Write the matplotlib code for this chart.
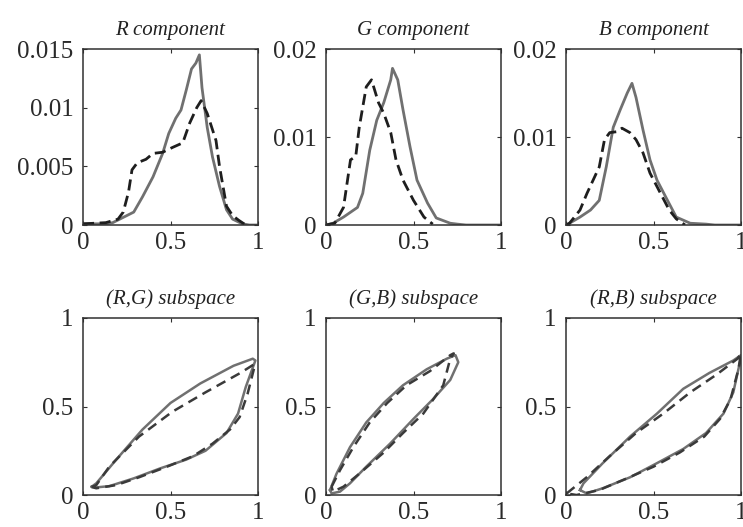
import matplotlib
matplotlib.use('Agg')
import matplotlib.pyplot as plt

# --- histograms of each colour component (solid = model, dashed = data) ---
r_solid_x = [0, 0.13, 0.17, 0.29, 0.34, 0.40, 0.455, 0.49, 0.53, 0.56, 0.59, 0.62, 0.645, 0.665,
             0.68, 0.71, 0.74, 0.78, 0.82, 0.855, 0.91, 0.95, 1.0]
r_solid_y = [0.0001, 0.0001, 0.0002, 0.0011, 0.0024, 0.0041, 0.0061, 0.0078, 0.0091, 0.0098, 0.0115,
             0.0133, 0.0138, 0.0145, 0.0117, 0.0083, 0.0058, 0.0033, 0.0013, 0.0005, 0.0001, 0, 0]
r_dash_x = [0, 0.13, 0.20, 0.23, 0.26, 0.28, 0.31, 0.36, 0.40, 0.455, 0.51, 0.57, 0.61, 0.65, 0.675,
            0.71, 0.76, 0.78, 0.82, 0.855, 0.89, 0.93]
r_dash_y = [0.0001, 0.0002, 0.0005, 0.0011, 0.0028, 0.0047, 0.0053, 0.0056, 0.0061, 0.0062, 0.0066,
            0.0070, 0.0087, 0.0100, 0.0106, 0.0095, 0.0072, 0.0050, 0.0016, 0.0008, 0.0004, 0]

g_solid_x = [0, 0.04, 0.10, 0.18, 0.21, 0.25, 0.29, 0.33, 0.37, 0.38, 0.41, 0.44, 0.48, 0.52, 0.58,
             0.63, 0.71, 0.75, 0.80, 1.0]
g_solid_y = [0, 0.0002, 0.0009, 0.0020, 0.0036, 0.0085, 0.0119, 0.0139, 0.0165, 0.0178, 0.0165, 0.0131,
             0.0089, 0.0051, 0.0025, 0.0008, 0.0002, 0.0001, 0, 0]
g_dash_x = [0, 0.05, 0.10, 0.14, 0.17, 0.19, 0.23, 0.26, 0.30, 0.33, 0.37, 0.40, 0.44, 0.50, 0.56, 0.61]
g_dash_y = [0, 0.0002, 0.0020, 0.0074, 0.0078, 0.0111, 0.0157, 0.0165, 0.0139, 0.0127, 0.0105, 0.0074,
            0.0051, 0.0028, 0.0009, 0.0001]

b_solid_x = [0, 0.02, 0.08, 0.14, 0.19, 0.23, 0.27, 0.31, 0.35, 0.377, 0.40, 0.44, 0.48, 0.52, 0.58,
             0.63, 0.71, 0.80, 0.85, 1.0]
b_solid_y = [0, 0.0002, 0.0009, 0.0017, 0.0028, 0.0066, 0.0111, 0.0131, 0.0150, 0.0161, 0.0145, 0.0108,
             0.0074, 0.0051, 0.0028, 0.0009, 0.0002, 0.0001, 0, 0]
b_dash_x = [0, 0.02, 0.08, 0.12, 0.155, 0.19, 0.22, 0.25, 0.29, 0.32, 0.365, 0.40, 0.44, 0.48, 0.54,
            0.59, 0.63, 0.68]
b_dash_y = [0, 0.0002, 0.0017, 0.0036, 0.0051, 0.0066, 0.0097, 0.0105, 0.0106, 0.0110, 0.0105, 0.0097,
            0.0082, 0.0059, 0.0036, 0.0017, 0.0007, 0]

# --- closed trajectories in the 2-D subspaces ---
rg_solid_x = [0.05, 0.076, 0.19, 0.34, 0.50, 0.67, 0.86, 0.97, 0.985, 0.93, 0.886, 0.82, 0.70, 0.59,
              0.44, 0.29, 0.15, 0.076, 0.05]
rg_solid_y = [0.047, 0.066, 0.20, 0.37, 0.52, 0.63, 0.73, 0.77, 0.76, 0.61, 0.46, 0.35, 0.25, 0.20,
              0.15, 0.094, 0.05, 0.043, 0.047]
rg_dash_x = [0.05, 0.076, 0.15, 0.32, 0.51, 0.70, 0.90, 0.98, 0.98, 0.94, 0.895, 0.84, 0.74, 0.63,
             0.48, 0.32, 0.19, 0.076, 0.05]
rg_dash_y = [0.045, 0.056, 0.16, 0.33, 0.47, 0.58, 0.69, 0.74, 0.725, 0.57, 0.44, 0.37, 0.29, 0.22,
             0.16, 0.10, 0.056, 0.038, 0.045]

gb_solid_x = [0.023, 0.06, 0.137, 0.23, 0.33, 0.44, 0.575, 0.69, 0.74, 0.756, 0.71, 0.61, 0.50, 0.366,
              0.23, 0.137, 0.08, 0.032, 0.023]
gb_solid_y = [0.028, 0.12, 0.27, 0.41, 0.52, 0.62, 0.71, 0.77, 0.79, 0.75, 0.65, 0.54, 0.43, 0.29,
              0.16, 0.066, 0.019, 0.009, 0.028]
gb_dash_x = [0.032, 0.08, 0.156, 0.25, 0.35, 0.46, 0.594, 0.71, 0.73, 0.71, 0.67, 0.556, 0.44, 0.33,
             0.19, 0.10, 0.04, 0.032]
gb_dash_y = [0.047, 0.14, 0.27, 0.41, 0.52, 0.62, 0.70, 0.79, 0.80, 0.77, 0.62, 0.46, 0.35, 0.24,
             0.12, 0.047, 0.019, 0.047]

rb_solid_x = [0.08, 0.10, 0.21, 0.366, 0.52, 0.67, 0.82, 0.956, 1.0, 0.994, 0.956, 0.90, 0.80, 0.67,
              0.52, 0.366, 0.21, 0.118, 0.08]
rb_solid_y = [0.028, 0.066, 0.18, 0.33, 0.46, 0.60, 0.69, 0.76, 0.79, 0.75, 0.58, 0.46, 0.35, 0.26,
              0.18, 0.10, 0.038, 0.009, 0.028]
rb_dash_x = [0.004, 0.118, 0.25, 0.40, 0.556, 0.71, 0.86, 0.98, 1.0, 0.985, 0.94, 0.88, 0.79, 0.65,
             0.50, 0.35, 0.19, 0.06, 0.004]
rb_dash_y = [0.009, 0.10, 0.22, 0.35, 0.46, 0.58, 0.68, 0.77, 0.80, 0.71, 0.54, 0.43, 0.33, 0.24,
             0.16, 0.095, 0.028, 0.0, 0.009]

titles = ['R component', 'G component', 'B component',
          '(R,G) subspace', '(G,B) subspace', '(R,B) subspace']
top_yticks = [[0, 0.005, 0.01, 0.015], [0, 0.01, 0.02], [0, 0.01, 0.02]]
top_ylims = [0.015, 0.02, 0.02]
xticks = [0, 0.5, 1]
sub_yticks = [0, 0.5, 1]

plt.rcParams['font.family'] = ['Liberation Serif', 'DejaVu Serif']
solid_col = '#707070'
dash_col = '#1e1e1e'
box_col = '#303030'

fig = plt.figure(figsize=(7.43, 5.27), dpi=100)
W, H = 743, 527
lefts = [83, 326, 566]
ax_w = 175


def make_ax(left, top, bottom):
    return fig.add_axes([left / W, 1 - bottom / H, ax_w / W, (bottom - top) / H])


def style(ax, title, yt):
    ax.set_xlim(0, 1)
    ax.set_xticks(xticks)
    ax.set_xticklabels(['%g' % t for t in xticks])
    ax.set_yticks(yt)
    ax.set_yticklabels(['%g' % t for t in yt])
    ax.tick_params(direction='in', length=3, width=0.8, color=box_col, labelsize=18,
                   top=True, right=True, labelcolor='#2a2a2a')
    ax.tick_params(axis='y', pad=7)
    ax.tick_params(axis='x', pad=5)
    for s in ax.spines.values():
        s.set_color(box_col)
        s.set_linewidth(1.1)
    ax.set_title(title, fontstyle='italic', fontsize=15, pad=10, color='#222222')


hists = [(r_solid_x, r_solid_y, r_dash_x, r_dash_y),
         (g_solid_x, g_solid_y, g_dash_x, g_dash_y),
         (b_solid_x, b_solid_y, b_dash_x, b_dash_y)]
for i, (sx, sy, dx, dy) in enumerate(hists):
    ax = make_ax(lefts[i], 49, 225)
    ax.plot(sx, sy, color=solid_col, lw=2)
    ax.plot(dx, dy, color=dash_col, lw=2, dashes=(4, 2))
    ax.set_ylim(0, top_ylims[i])
    style(ax, titles[i], top_yticks[i])

loops = [(rg_solid_x, rg_solid_y, rg_dash_x, rg_dash_y),
         (gb_solid_x, gb_solid_y, gb_dash_x, gb_dash_y),
         (rb_solid_x, rb_solid_y, rb_dash_x, rb_dash_y)]
for i, (sx, sy, dx, dy) in enumerate(loops):
    ax = make_ax(lefts[i], 318, 495)
    ax.plot(sx, sy, color=solid_col, lw=1.8)
    ax.plot(dx, dy, color='#3a3a3a', lw=1.8, dashes=(4, 2.5))
    ax.set_ylim(0, 1)
    style(ax, titles[i + 3], sub_yticks)

fig.savefig('out.png', dpi=100)
